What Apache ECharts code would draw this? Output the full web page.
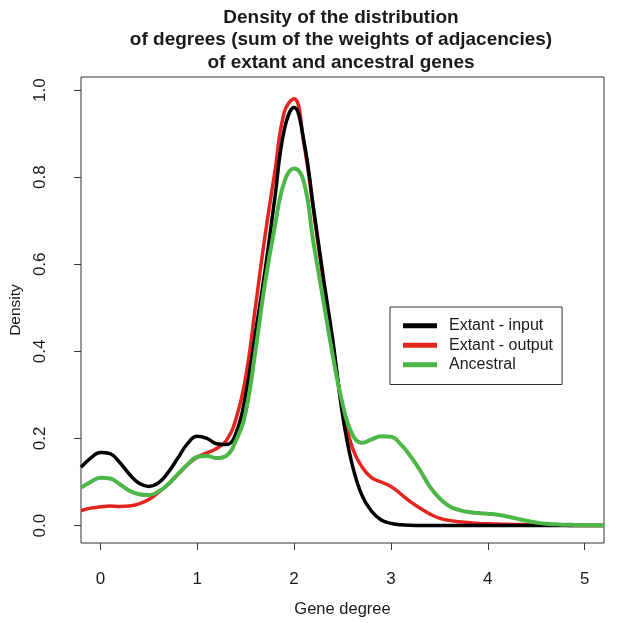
<!DOCTYPE html>
<html>
<head>
<meta charset="utf-8">
<script src="https://cdn.jsdelivr.net/npm/echarts@6/dist/echarts.min.js"></script>
<style>
html,body{margin:0;padding:0;background:#fff;}
#c{width:625px;height:623px;}
</style>
</head>
<body>
<div id="c"></div>
<script>
const titleLines = ["Density of the distribution", "of degrees (sum of the weights of adjacencies)", "of extant and ancestral genes"];
const xTicks = [0, 1, 2, 3, 4, 5];
const yTicks = [0, 0.2, 0.4, 0.6, 0.8, 1.0];
const seriesNames = ["Extant - input", "Extant - output", "Ancestral"];
const gridX = [-0.2,-0.1,0.0,0.1,0.2,0.3,0.4,0.5,0.6,0.7,0.8,0.9,1.0,1.1,1.2,1.3,1.4,1.5,1.6,1.7,1.8,1.9,2.0,2.1,2.2,2.3,2.4,2.5,2.6,2.7,2.8,2.9,3.0,3.1,3.2,3.3,3.4,3.5,3.6,3.7,3.8,3.9,4.0,4.1,4.2,4.3,4.4,4.5,4.6,4.7,4.8,4.9,5.0,5.1,5.2];
const extantInput = [0.134,0.155,0.168,0.165,0.145,0.118,0.097,0.090,0.098,0.122,0.155,0.188,0.205,0.200,0.188,0.186,0.212,0.300,0.440,0.585,0.750,0.910,0.960,0.885,0.730,0.573,0.425,0.255,0.140,0.070,0.033,0.013,0.005,0.002,0.0005,0,0,0,0,0,0,0,0,0,0,0,0,0,0,0,0,0,0,0,0];
const extantOutput = [0.034,0.040,0.043,0.045,0.044,0.045,0.050,0.060,0.076,0.095,0.117,0.140,0.157,0.167,0.177,0.195,0.245,0.340,0.500,0.665,0.810,0.950,0.980,0.880,0.725,0.565,0.415,0.270,0.180,0.135,0.110,0.100,0.090,0.073,0.055,0.040,0.027,0.017,0.012,0.009,0.007,0.005,0.004,0.0035,0.003,0.0025,0.002,0.0015,0.001,0.0008,0.0005,0.0003,0.0002,0.0001,0];
const ancestral = [0.087,0.100,0.110,0.108,0.095,0.080,0.072,0.070,0.078,0.095,0.118,0.140,0.158,0.160,0.155,0.160,0.195,0.260,0.400,0.557,0.685,0.790,0.820,0.790,0.650,0.520,0.390,0.280,0.210,0.190,0.198,0.205,0.204,0.187,0.160,0.127,0.090,0.063,0.045,0.036,0.031,0.029,0.027,0.025,0.021,0.016,0.011,0.007,0.004,0.003,0.002,0.0015,0.001,0.0007,0.0005];

const colors = ["#000000", "#e3241f", "#4cb648"];
const ys = [extantInput, extantOutput, ancestral];
const widths = [3.5, 3.5, 4];
const zs = [3, 2, 4];

const chart = echarts.init(document.getElementById('c'), null, {renderer: 'canvas'});
const FONT = "'Liberation Sans', Arial, Helvetica, sans-serif";
const TXT = '#1a1a1a';
const AX = '#333333';

chart.setOption({
  animation: false,
  backgroundColor: '#ffffff',
  textStyle: {fontFamily: FONT, color: TXT},
  grid: {left: 79, right: 21, top: 77, bottom: 80, show: true, borderColor: AX, borderWidth: 1, backgroundColor: 'transparent'},
  graphic: titleLines.map((t, i) => ({
    type: 'text', x: 341, y: 17.5 + i * 22.5,
    style: {text: t, textAlign: 'center', textVerticalAlign: 'middle', fontFamily: FONT, fontWeight: 'bold', fontSize: 19, fill: TXT}
  })),
  legend: {
    orient: 'vertical', left: 390, top: 307,
    data: seriesNames,
    icon: 'rect', itemWidth: 34, itemHeight: 5, itemGap: 0,
    borderColor: AX, borderWidth: 1, padding: [9, 9, 10, 13],
    textStyle: {fontFamily: FONT, fontSize: 16, color: TXT, lineHeight: 19.5, padding: [0, 0, 0, 7]}
  },
  xAxis: {
    type: 'value', min: -0.2, max: 5.2,
    name: 'Gene degree', nameLocation: 'middle', nameGap: 58,
    nameTextStyle: {fontFamily: FONT, fontSize: 16.5, color: TXT},
    axisLine: {show: false, onZero: false},
    axisTick: {show: true, length: 7, lineStyle: {color: AX}, customValues: xTicks},
    axisLabel: {fontFamily: FONT, fontSize: 17, color: TXT, margin: 28, customValues: xTicks, formatter: v => String(v)},
    splitLine: {show: false}
  },
  yAxis: {
    type: 'value', min: -0.04, max: 1.03,
    name: 'Density', nameLocation: 'middle', nameGap: 57,
    nameTextStyle: {fontFamily: FONT, fontSize: 15.5, color: TXT},
    axisLine: {show: false, onZero: false},
    axisTick: {show: true, length: 7, lineStyle: {color: AX}, customValues: yTicks},
    axisLabel: {fontFamily: FONT, fontSize: 17, color: TXT, margin: 32, rotate: 90, customValues: yTicks, formatter: v => v.toFixed(1)},
    splitLine: {show: false}
  },
  series: seriesNames.map((n, k) => ({
    name: n, type: 'line', showSymbol: false, smooth: 0.45, z: zs[k],
    color: colors[k],
    itemStyle: {color: colors[k]},
    lineStyle: {color: colors[k], width: widths[k]},
    data: gridX.map((x, i) => [x, ys[k][i]])
  }))
});
</script>
</body>
</html>
